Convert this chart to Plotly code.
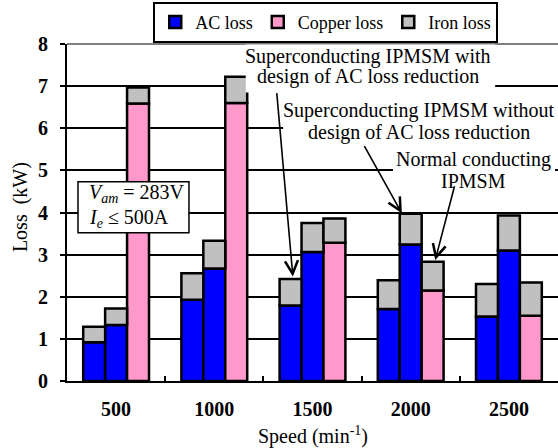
import plotly.graph_objects as go

speeds = ["500", "1000", "1500", "2000", "2500"]

# Superconducting IPMSM with design of AC loss reduction
ac_with = [0.92, 1.93, 1.79, 1.71, 1.53]
iron_with = [0.37, 0.63, 0.63, 0.68, 0.77]
# Superconducting IPMSM without design of AC loss reduction
ac_without = [1.33, 2.67, 3.06, 3.24, 3.10]
iron_without = [0.39, 0.66, 0.69, 0.73, 0.83]
# Normal conducting IPMSM
copper_normal = [6.59, 6.60, 3.28, 2.15, 1.55]
iron_normal = [0.38, 0.62, 0.58, 0.68, 0.79]

BLUE = "#0000FF"
PINK = "#FF99CC"
GRAY = "#C0C0C0"
FONT = "Liberation Serif, Times New Roman, serif"
FS = 20
line = dict(color="black", width=2.5)

fig = go.Figure()
fig.add_bar(x=speeds, y=ac_with, offsetgroup="a", name="AC loss", legendgroup="ac",
            marker=dict(color=BLUE, line=line))
fig.add_bar(x=speeds, y=ac_without, offsetgroup="b", name="AC loss", legendgroup="ac",
            showlegend=False, marker=dict(color=BLUE, line=line))
fig.add_bar(x=speeds, y=copper_normal, offsetgroup="c", name="Copper loss", legendgroup="cu",
            marker=dict(color=PINK, line=line))
fig.add_bar(x=speeds, y=iron_with, base=ac_with, offsetgroup="a", name="Iron loss",
            legendgroup="fe", marker=dict(color=GRAY, line=line))
fig.add_bar(x=speeds, y=iron_without, base=ac_without, offsetgroup="b", name="Iron loss",
            legendgroup="fe", showlegend=False, marker=dict(color=GRAY, line=line))
fig.add_bar(x=speeds, y=iron_normal, base=copper_normal, offsetgroup="c", name="Iron loss",
            legendgroup="fe", showlegend=False, marker=dict(color=GRAY, line=line))

white_box = dict(type="rect", xref="x", yref="y", fillcolor="white",
                 line=dict(width=0), layer="above")
fig.update_layout(
    width=558, height=448,
    margin=dict(l=67, r=0, t=44, b=67),
    barmode="group", bargap=0.33, bargroupgap=0,
    plot_bgcolor="white", paper_bgcolor="white",
    font=dict(family=FONT, size=FS, color="black"),
    legend=dict(orientation="h", x=0.527, xanchor="center", y=1.125, yanchor="top",
                bordercolor="black", borderwidth=2, font=dict(size=18),
                traceorder="normal", itemwidth=30, tracegroupgap=0),
    xaxis=dict(type="category", categoryorder="array", categoryarray=speeds,
               showline=True, linecolor="black", linewidth=2, automargin=False,
               ticks="inside", tickson="boundaries", ticklen=5, tickcolor="black", tickwidth=2,
               tickfont=dict(size=FS, weight="bold"), ticklabelstandoff=9),
    yaxis=dict(range=[0, 8], dtick=1, showline=True, linecolor="black", linewidth=2,
               automargin=False,
               ticks="outside", ticklen=5, tickcolor="black", tickwidth=2,
               showgrid=True, gridcolor="black", gridwidth=1.5, zeroline=False,
               tickfont=dict(size=FS, weight="bold"), ticklabelstandoff=8),
    shapes=[
        dict(type="line", xref="paper", yref="paper", x0=0, x1=1, y0=1, y1=1,
             line=dict(color="#808080", width=2), layer="above"),
        dict(white_box, x0=1.32, x1=3.86, y0=6.85, y1=7.99),
        dict(white_box, x0=1.70, x1=4.5, y0=5.65, y1=6.67),
        dict(white_box, x0=2.82, x1=4.47, y0=4.49, y1=5.49),
        dict(type="rect", xref="x", yref="y", x0=-0.388, x1=0.742, y0=3.52, y1=4.73,
             fillcolor="white", line=dict(color="black", width=1.5), layer="above"),
    ],
)

# axis titles
fig.add_annotation(x=0.5, y=-0.162, xref="paper", yref="paper", showarrow=False,
                   xanchor="center", yanchor="middle",
                   text="Speed (min<sup>-1</sup>)", font=dict(size=FS))
fig.add_annotation(x=-0.0957, y=0.516, xref="paper", yref="paper", showarrow=False,
                   xanchor="center", yanchor="middle",
                   text="Loss  (kW)", textangle=-90, font=dict(size=FS))

# text labels (one line each)
labels = [
    (2.57, 7.70, "Superconducting IPMSM with"),
    (2.57, 7.22, "design of AC loss reduction"),
    (3.08, 6.41, "Superconducting IPMSM without"),
    (3.08, 5.91, "design of AC loss reduction"),
    (3.64, 5.27, "Normal conducting"),
    (3.64, 4.75, "IPMSM"),
]
for lx, ly, t in labels:
    fig.add_annotation(x=lx, y=ly, xref="x", yref="y", showarrow=False, text=t,
                       font=dict(size=FS))

fig.add_annotation(x=-0.296, y=4.44, xref="x", yref="y", showarrow=False, xanchor="left",
                   text="<i>V</i><sub><i>am</i></sub> = 283V", font=dict(size=FS))
fig.add_annotation(x=-0.296, y=3.85, xref="x", yref="y", showarrow=False, xanchor="left",
                   text="<i>I</i><sub><i>e</i></sub> ≤ 500A", font=dict(size=FS))

# arrows
for hx, hy, tx, ty in [(1.80, 2.48, 1.635, 6.87), (2.91, 3.98, 2.52, 5.61), (3.25, 2.87, 3.45, 4.66)]:
    fig.add_annotation(x=hx, y=hy, ax=tx, ay=ty, xref="x", yref="y", axref="x", ayref="y",
                       text="", showarrow=True, arrowhead=5, arrowsize=1.6, arrowwidth=1.6,
                       arrowcolor="black")

fig.write_html("out.html", config={"displayModeBar": False},
               post_script="document.body.style.margin='0';document.body.style.overflow='hidden';")
